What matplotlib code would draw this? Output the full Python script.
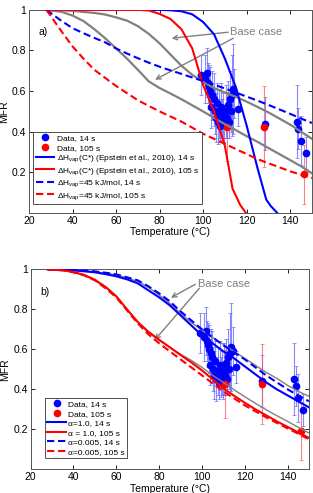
import matplotlib
matplotlib.use('Agg')
import matplotlib.pyplot as plt

plt.rcParams['font.family'] = ['Liberation Sans', 'DejaVu Sans']
plt.rcParams['mathtext.fontset'] = 'custom'
plt.rcParams['mathtext.rm'] = 'Liberation Sans'
plt.rcParams['mathtext.it'] = 'Liberation Sans:italic'

# measured data, 14 s and 105 s residence time
x14 = [99.0, 101.0, 101.8, 102.3, 102.8, 103.3, 103.8, 104.3, 104.8, 105.3,
       105.8, 106.3, 106.8, 107.3, 107.8, 108.3, 108.8, 109.3, 109.8, 110.3,
       110.8, 111.3, 111.8, 112.3, 112.8, 113.3, 113.8, 114.3, 115.8, 128.3,
       142.9, 143.8, 144.8, 147.2]
y14 = [0.68, 0.66, 0.69, 0.64, 0.62, 0.60, 0.52, 0.58, 0.56, 0.50,
       0.47, 0.54, 0.45, 0.49, 0.43, 0.52, 0.46, 0.48, 0.44, 0.50,
       0.47, 0.53, 0.45, 0.56, 0.50, 0.58, 0.61, 0.59, 0.51, 0.44,
       0.45, 0.415, 0.355, 0.295]
e14 = [0.10, 0.12, 0.12, 0.10, 0.11, 0.12, 0.10, 0.12, 0.13, 0.11,
       0.12, 0.10, 0.11, 0.12, 0.08, 0.12, 0.10, 0.11, 0.09, 0.13,
       0.10, 0.12, 0.08, 0.14, 0.10, 0.20, 0.22, 0.12, 0.08, 0.13,
       0.18, 0.10, 0.12, 0.08]
x105 = [110.8, 127.9, 146.4]
y105 = [0.425, 0.425, 0.19]
e105 = [0.17, 0.20, 0.145]

# model curves
T = [28, 35, 40, 45, 50, 55, 60, 65, 70, 75, 80, 85, 90, 95, 100, 105,
     110, 115, 120, 125, 130, 135, 140, 145, 150]

# panel a
base14_a = [1.0, 0.998, 0.995, 0.99, 0.985, 0.977, 0.963, 0.947, 0.92, 0.882,
            0.835, 0.78, 0.725, 0.68, 0.645, 0.615, 0.593, 0.572, 0.548, 0.522,
            0.495, 0.465, 0.435, 0.40, 0.365]
base105_a = [1.0, 0.99, 0.972, 0.945, 0.905, 0.86, 0.81, 0.76, 0.705, 0.648,
             0.615, 0.588, 0.56, 0.53, 0.50, 0.468, 0.437, 0.408, 0.378, 0.35,
             0.32, 0.29, 0.26, 0.23, 0.195]
T_ep14 = [28, 40, 60, 80, 85, 90, 95, 100, 105, 110, 115, 120, 125, 129, 131, 134.5]
ep14 = [1.0, 1.0, 1.0, 1.0, 0.998, 0.993, 0.978, 0.94, 0.88, 0.76, 0.62, 0.43,
        0.22, 0.066, 0.035, -0.005]
T_ep105 = [28, 40, 60, 70, 75, 80, 85, 90, 95, 100, 105, 110, 113.5, 117, 120]
ep105 = [1.0, 1.0, 1.0, 1.0, 0.997, 0.98, 0.955, 0.905, 0.81, 0.63, 0.50, 0.33,
         0.12, 0.04, -0.005]
h45_14 = [1.0, 0.945, 0.91, 0.885, 0.862, 0.84, 0.81, 0.785, 0.762, 0.74,
          0.72, 0.702, 0.685, 0.667, 0.65, 0.632, 0.613, 0.593, 0.573, 0.553,
          0.532, 0.51, 0.488, 0.465, 0.443]
h45_105 = [1.0, 0.893, 0.82, 0.76, 0.705, 0.665, 0.625, 0.59, 0.555, 0.527,
           0.50, 0.475, 0.45, 0.42, 0.39, 0.365, 0.34, 0.315, 0.29, 0.265,
           0.245, 0.225, 0.205, 0.188, 0.172]

# panel b
base14_b = [1.0, 0.998, 0.996, 0.992, 0.988, 0.981, 0.972, 0.957, 0.94, 0.91,
            0.872, 0.83, 0.78, 0.735, 0.695, 0.66, 0.625, 0.59, 0.555, 0.52,
            0.485, 0.455, 0.42, 0.39, 0.365]
base105_b = [1.0, 0.995, 0.985, 0.97, 0.945, 0.91, 0.865, 0.80, 0.735, 0.685,
             0.645, 0.61, 0.575, 0.545, 0.51, 0.47, 0.435, 0.398, 0.363, 0.33,
             0.298, 0.268, 0.24, 0.21, 0.182]
a1_14 = [1.0, 0.998, 0.995, 0.99, 0.985, 0.976, 0.965, 0.95, 0.93, 0.895,
         0.86, 0.82, 0.77, 0.72, 0.67, 0.63, 0.59, 0.555, 0.515, 0.475,
         0.435, 0.40, 0.37, 0.34, 0.31]
a1_105 = [1.0, 0.995, 0.987, 0.972, 0.948, 0.912, 0.865, 0.80, 0.737, 0.688,
          0.648, 0.61, 0.572, 0.535, 0.495, 0.45, 0.405, 0.368, 0.333, 0.30,
          0.27, 0.24, 0.212, 0.185, 0.157]
a005_14 = [1.0, 0.998, 0.997, 0.994, 0.99, 0.983, 0.975, 0.96, 0.945, 0.915,
           0.88, 0.84, 0.79, 0.745, 0.70, 0.66, 0.62, 0.585, 0.55, 0.51,
           0.47, 0.435, 0.40, 0.37, 0.34]
a005_105 = [1.0, 0.995, 0.985, 0.97, 0.945, 0.905, 0.86, 0.795, 0.73, 0.675,
            0.63, 0.59, 0.55, 0.51, 0.47, 0.43, 0.39, 0.355, 0.32, 0.29,
            0.26, 0.232, 0.205, 0.178, 0.15]

BLUE = '#0000ff'
RED = '#ff0000'
GRAY = '#808080'
DASH = (0, (3.5, 1.8))


def draw_data(ax):
    ax.errorbar(x14, y14, yerr=e14, fmt='none', ecolor=(0.35, 0.35, 1.0),
                alpha=0.7, elinewidth=0.8, capsize=1.5, capthick=0.6, zorder=2)
    ax.errorbar(x105, y105, yerr=e105, fmt='none', ecolor=(1.0, 0.3, 0.3),
                alpha=0.7, elinewidth=0.8, capsize=1.5, capthick=0.6, zorder=2)
    ax.plot(x14, y14, 'o', color=BLUE, ms=4.5, mec=BLUE, zorder=3,
            label='Data, 14 s')
    ax.plot(x105, y105, 'o', color=RED, ms=4.5, mec=RED, zorder=3,
            label='Data, 105 s')


def style_axes(ax):
    ax.set_xlim(20, 150)
    ax.set_ylim(0, 1)
    ax.set_xticks([20, 40, 60, 80, 100, 120, 140])
    ax.set_yticks([0.2, 0.4, 0.6, 0.8, 1.0])
    ax.set_yticklabels(['0.2', '0.4', '0.6', '0.8', '1'])
    ax.tick_params(direction='in', top=True, right=True, length=3,
                   width=0.6, labelsize=7.5, pad=2)
    for s in ax.spines.values():
        s.set_color('#555555')
        s.set_linewidth(0.7)
    ax.set_xlabel('Temperature (°C)', fontsize=7.5, labelpad=1)
    ax.set_ylabel('MFR', fontsize=7.5, labelpad=2)


def arrow(ax, start, tip):
    ax.annotate('', xy=tip, xytext=start,
                arrowprops=dict(arrowstyle='->', color=GRAY, lw=1.0,
                                shrinkA=0, shrinkB=0, mutation_scale=8))


fig = plt.figure(figsize=(3.13, 4.93), dpi=100)

# ---- panel a
ax1 = fig.add_axes([0.0927, 0.568, 0.904, 0.412])
draw_data(ax1)
ax1.plot(T, base14_a, color=GRAY, lw=1.6, zorder=4)
ax1.plot(T, base105_a, color=GRAY, lw=1.6, zorder=4)
ax1.plot(T_ep14, ep14, color=BLUE, lw=1.5, zorder=4,
         label=r'ΔH$_{\mathrm{vap}}$(C*) (Epstein et al., 2010), 14 s')
ax1.plot(T_ep105, ep105, color=RED, lw=1.5, zorder=4,
         label=r'ΔH$_{\mathrm{vap}}$(C*) (Epstein et al., 2010), 105 s')
ax1.plot(T, h45_14, color=BLUE, lw=1.5, ls=DASH, zorder=4,
         label=r'ΔH$_{\mathrm{vap}}$=45 kJ/mol, 14 s')
ax1.plot(T, h45_105, color=RED, lw=1.5, ls=DASH, zorder=4,
         label=r'ΔH$_{\mathrm{vap}}$=45 kJ/mol, 105 s')
style_axes(ax1)
ax1.text(24.5, 0.89, 'a)', fontsize=7.5, va='center')
ax1.text(112.3, 0.89, 'Base case', fontsize=8, color=GRAY, va='center')
arrow(ax1, (111.5, 0.89), (85.5, 0.86))
arrow(ax1, (113.8, 0.86), (77.9, 0.656))
leg = ax1.legend(loc='lower left', bbox_to_anchor=(0.015, 0.044),
                 fontsize=6, fancybox=False, edgecolor='#333333',
                 framealpha=1, borderpad=0.3, handlelength=2.2,
                 handletextpad=0.3, labelspacing=0.2, borderaxespad=0)
leg.get_frame().set_linewidth(0.6)

# ---- panel b
ax2 = fig.add_axes([0.098, 0.048, 0.889, 0.4057])
draw_data(ax2)
ax2.plot(T, base14_b, color=GRAY, lw=1.0, zorder=4)
ax2.plot(T, base105_b, color=GRAY, lw=1.0, zorder=4)
ax2.plot(T, a1_14, color=BLUE, lw=1.5, zorder=4, label='α=1.0, 14 s')
ax2.plot(T, a1_105, color=RED, lw=1.5, zorder=4, label='α = 1.0, 105 s')
ax2.plot(T, a005_14, color=BLUE, lw=1.5, ls=DASH, zorder=4,
         label='α=0.005, 14 s')
ax2.plot(T, a005_105, color=RED, lw=1.5, ls=DASH, zorder=4,
         label='α=0.005, 105 s')
style_axes(ax2)
ax2.text(24.7, 0.888, 'b)', fontsize=7.5, va='center')
ax2.text(98.0, 0.925, 'Base case', fontsize=8, color=GRAY, va='center')
arrow(ax2, (96.9, 0.925), (85.5, 0.858))
arrow(ax2, (98.8, 0.905), (78.0, 0.647))
leg = ax2.legend(loc='lower left', bbox_to_anchor=(0.051, 0.055),
                 fontsize=6, fancybox=False, edgecolor='#333333',
                 framealpha=1, borderpad=0.3, handlelength=2.2,
                 handletextpad=0.3, labelspacing=0.2, borderaxespad=0)
leg.get_frame().set_linewidth(0.6)

fig.savefig('out.png', dpi=100)
